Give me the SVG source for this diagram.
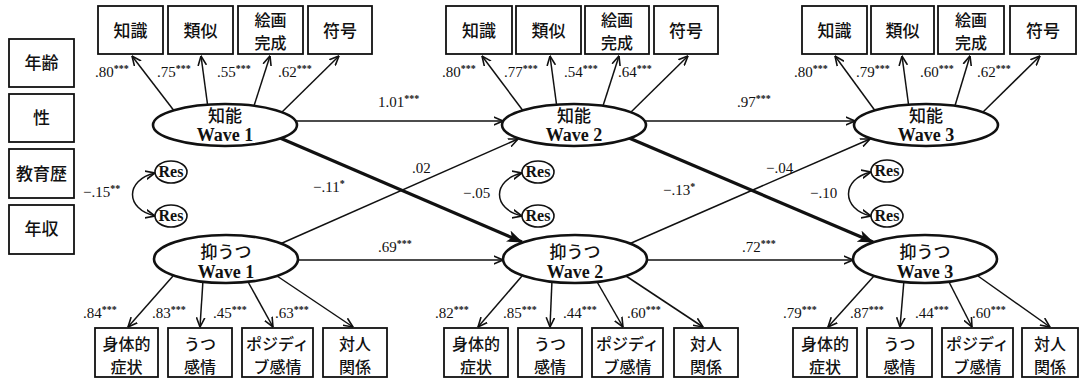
<svg xmlns="http://www.w3.org/2000/svg" width="1081" height="381" viewBox="0 0 1081 381">
<style>
.bx{fill:#fff;stroke:#111;stroke-width:1.8}
.el{fill:#fff;stroke:#111;stroke-width:2.6}
.res{fill:#fff;stroke:#111;stroke-width:1.6}
.jp{font-family:"Noto Sans CJK JP",sans-serif;font-size:17px;font-weight:500;fill:#111;text-anchor:middle}
.j2{font-family:"Noto Sans CJK JP",sans-serif;font-size:16px;font-weight:500;fill:#111;text-anchor:middle}
.wv{font-family:"Liberation Serif",serif;font-size:18px;font-weight:bold;fill:#111;text-anchor:middle}
.rs{font-family:"Liberation Serif",serif;font-size:16px;font-weight:bold;fill:#111;text-anchor:middle}
.lb{font-family:"Liberation Serif",serif;font-size:15px;fill:#111}
.st{font-size:10px;font-weight:bold}
.ln{fill:none;stroke:#111;stroke-width:1.5;marker-end:url(#ah)}
.tk{fill:none;stroke:#111;stroke-width:3.2;marker-end:url(#ahb)}
</style>
<defs>
<marker id="ah" viewBox="0 0 10 10" refX="9.5" refY="5" markerWidth="10" markerHeight="10" markerUnits="userSpaceOnUse" orient="auto-start-reverse"><path d="M0,0.8 L9.5,5 L0,9.2" fill="none" stroke="#111" stroke-width="1.6"/></marker>
<marker id="ahb" viewBox="0 0 16 12" refX="15" refY="6" markerWidth="16" markerHeight="12" markerUnits="userSpaceOnUse" orient="auto"><path d="M0,0 L16,6 L0,12 L4,6 Z" fill="#111"/></marker>
</defs>
<rect width="1081" height="381" fill="#fff"/>

<g id="covariates">
<rect class="bx" x="9" y="39" width="65" height="48"/><text class="jp" x="41.5" y="69">年齢</text>
<rect class="bx" x="9" y="94" width="65" height="48"/><text class="jp" x="41.5" y="124">性</text>
<rect class="bx" x="9" y="149" width="65" height="49"/><text class="jp" x="41.5" y="180">教育歴</text>
<rect class="bx" x="9" y="205" width="65" height="49"/><text class="jp" x="41.5" y="235">年収</text>
</g>

<g id="connectors">
<path class="ln" d="M175,112 L132,56"/>
<path class="ln" d="M208,108 L201,56"/>
<path class="ln" d="M253,109 L270,56"/>
<path class="ln" d="M280,114 L339,56"/>
<path class="ln" d="M524,112 L482,56"/>
<path class="ln" d="M557,108 L550,56"/>
<path class="ln" d="M602,109 L619,56"/>
<path class="ln" d="M629,114 L688,56"/>
<path class="ln" d="M876,112 L835,56"/>
<path class="ln" d="M909,108 L902,56"/>
<path class="ln" d="M954,109 L970,56"/>
<path class="ln" d="M981,114 L1040,56"/>
<path class="ln" d="M173,276 L128,327"/>
<path class="ln" d="M203,280 L200,327"/>
<path class="ln" d="M247,280 L273,327"/>
<path class="ln" d="M277,276 L353,327"/>
<path class="ln" d="M522,276 L478,327"/>
<path class="ln" d="M552,280 L550,327"/>
<path class="ln" d="M596,280 L623,327"/>
<path class="ln" d="M626,276 L703,327"/>
<path class="ln" d="M874,276 L828,327"/>
<path class="ln" d="M904,280 L900,327"/>
<path class="ln" d="M948,280 L972,327"/>
<path class="ln" d="M978,276 L1050,327"/>
<path class="ln" d="M295,121 L503,121"/>
<path class="ln" d="M644,121 L855,121"/>
<path class="ln" d="M297,260 L503,260"/>
<path class="ln" d="M646,260 L853,260"/>
<path class="ln" d="M280,244 L518,139"/>
<path class="ln" d="M629,244 L870,139"/>
<path class="tk" d="M280,138 L522,242"/>
<path class="tk" d="M629,138 L873,242"/>
<path class="ln" style="marker-start:url(#ah)" d="M155,173 C125,180 125,209 155,216"/>
<path class="ln" style="marker-start:url(#ah)" d="M522,173 C492,180 492,209 522,216"/>
<path class="ln" style="marker-start:url(#ah)" d="M871,172 C841,179 841,209 871,216"/>
</g>

<g id="iq-w1-indicators">
<rect class="bx" x="98" y="6" width="65" height="48"/><text class="jp" x="130.5" y="37">知識</text>
<rect class="bx" x="168" y="6" width="65" height="48"/><text class="jp" x="200.5" y="37">類似</text>
<rect class="bx" x="238" y="6" width="65" height="48"/><text class="j2" y="25.6"><tspan x="270.5">絵画</tspan><tspan x="270.5" dy="23.2">完成</tspan></text>
<rect class="bx" x="308" y="6" width="64" height="48"/><text class="jp" x="340" y="37">符号</text>
</g>
<g id="iq-w2-indicators">
<rect class="bx" x="446" y="6" width="66" height="48"/><text class="jp" x="479" y="37">知識</text>
<rect class="bx" x="516" y="6" width="65" height="48"/><text class="jp" x="548.5" y="37">類似</text>
<rect class="bx" x="585" y="6" width="64" height="48"/><text class="j2" y="25.6"><tspan x="617">絵画</tspan><tspan x="617" dy="23.2">完成</tspan></text>
<rect class="bx" x="654" y="6" width="64" height="48"/><text class="jp" x="686" y="37">符号</text>
</g>
<g id="iq-w3-indicators">
<rect class="bx" x="802" y="6" width="65" height="48"/><text class="jp" x="834.5" y="37">知識</text>
<rect class="bx" x="871" y="6" width="63" height="48"/><text class="jp" x="902.5" y="37">類似</text>
<rect class="bx" x="938" y="6" width="66" height="48"/><text class="j2" y="25.6"><tspan x="971">絵画</tspan><tspan x="971" dy="23.2">完成</tspan></text>
<rect class="bx" x="1010" y="6" width="66" height="48"/><text class="jp" x="1043" y="37">符号</text>
</g>

<g id="dep-w1-indicators">
<rect class="bx" x="95" y="328" width="63" height="49"/><text class="j2" y="349.5"><tspan x="126.5">身体的</tspan><tspan x="126.5" dy="23.2">症状</tspan></text>
<rect class="bx" x="168" y="328" width="64" height="49"/><text class="j2" y="349.5"><tspan x="200">うつ</tspan><tspan x="200" dy="23.2">感情</tspan></text>
<rect class="bx" x="242" y="328" width="71" height="49"/><text class="j2" y="349.5"><tspan x="277.5">ポジディ</tspan><tspan x="277.5" dy="23.2">ブ感情</tspan></text>
<rect class="bx" x="323" y="328" width="64" height="49"/><text class="j2" y="349.5"><tspan x="355">対人</tspan><tspan x="355" dy="23.2">関係</tspan></text>
</g>
<g id="dep-w2-indicators">
<rect class="bx" x="444" y="328" width="64" height="49"/><text class="j2" y="349.5"><tspan x="476">身体的</tspan><tspan x="476" dy="23.2">症状</tspan></text>
<rect class="bx" x="518" y="328" width="64" height="49"/><text class="j2" y="349.5"><tspan x="550">うつ</tspan><tspan x="550" dy="23.2">感情</tspan></text>
<rect class="bx" x="592" y="328" width="71" height="49"/><text class="j2" y="349.5"><tspan x="627.5">ポジディ</tspan><tspan x="627.5" dy="23.2">ブ感情</tspan></text>
<rect class="bx" x="674" y="328" width="64" height="49"/><text class="j2" y="349.5"><tspan x="706">対人</tspan><tspan x="706" dy="23.2">関係</tspan></text>
</g>
<g id="dep-w3-indicators">
<rect class="bx" x="793" y="328" width="64" height="49"/><text class="j2" y="349.5"><tspan x="825">身体的</tspan><tspan x="825" dy="23.2">症状</tspan></text>
<rect class="bx" x="867" y="328" width="65" height="49"/><text class="j2" y="349.5"><tspan x="899.5">うつ</tspan><tspan x="899.5" dy="23.2">感情</tspan></text>
<rect class="bx" x="942" y="328" width="71" height="49"/><text class="j2" y="349.5"><tspan x="977.5">ポジディ</tspan><tspan x="977.5" dy="23.2">ブ感情</tspan></text>
<rect class="bx" x="1022" y="328" width="56" height="49"/><text class="j2" y="349.5"><tspan x="1050">対人</tspan><tspan x="1050" dy="23.2">関係</tspan></text>
</g>

<g id="iq-w1"><ellipse class="el" cx="225" cy="125" rx="72" ry="21"/><text class="jp" y="122"><tspan x="225">知能</tspan><tspan class="wv" x="225" dy="19">Wave 1</tspan></text></g>
<g id="iq-w2"><ellipse class="el" cx="574" cy="125" rx="72" ry="21"/><text class="jp" y="122"><tspan x="574">知能</tspan><tspan class="wv" x="574" dy="19">Wave 2</tspan></text></g>
<g id="iq-w3"><ellipse class="el" cx="926" cy="125" rx="72" ry="21"/><text class="jp" y="122"><tspan x="926">知能</tspan><tspan class="wv" x="926" dy="19">Wave 3</tspan></text></g>
<g id="dep-w1"><ellipse class="el" cx="226" cy="259" rx="72" ry="24"/><text class="jp" y="258"><tspan x="226">抑うつ</tspan><tspan class="wv" x="226" dy="20">Wave 1</tspan></text></g>
<g id="dep-w2"><ellipse class="el" cx="575" cy="259" rx="72" ry="24"/><text class="jp" y="258"><tspan x="575">抑うつ</tspan><tspan class="wv" x="575" dy="20">Wave 2</tspan></text></g>
<g id="dep-w3"><ellipse class="el" cx="925" cy="259" rx="72" ry="24"/><text class="jp" y="258"><tspan x="925">抑うつ</tspan><tspan class="wv" x="925" dy="20">Wave 3</tspan></text></g>

<g id="res-w1"><ellipse class="res" cx="171" cy="172" rx="16" ry="11"/><text class="rs" x="171" y="177">Res</text><ellipse class="res" cx="171" cy="216" rx="16" ry="11"/><text class="rs" x="171" y="221">Res</text></g>
<g id="res-w2"><ellipse class="res" cx="538" cy="172" rx="16" ry="11"/><text class="rs" x="538" y="177">Res</text><ellipse class="res" cx="538" cy="216" rx="16" ry="11"/><text class="rs" x="538" y="221">Res</text></g>
<g id="res-w3"><ellipse class="res" cx="887" cy="171" rx="16" ry="11"/><text class="rs" x="887" y="176">Res</text><ellipse class="res" cx="887" cy="216" rx="16" ry="11"/><text class="rs" x="887" y="221">Res</text></g>

<g id="labels" class="lb">
<text x="95" y="77">.80<tspan class="st" dy="-5">***</tspan></text>
<text x="157" y="77">.75<tspan class="st" dy="-5">***</tspan></text>
<text x="217" y="77">.55<tspan class="st" dy="-5">***</tspan></text>
<text x="278" y="77">.62<tspan class="st" dy="-5">***</tspan></text>
<text x="442" y="77">.80<tspan class="st" dy="-5">***</tspan></text>
<text x="504" y="77">.77<tspan class="st" dy="-5">***</tspan></text>
<text x="564" y="77">.54<tspan class="st" dy="-5">***</tspan></text>
<text x="618" y="77">.64<tspan class="st" dy="-5">***</tspan></text>
<text x="794" y="77">.80<tspan class="st" dy="-5">***</tspan></text>
<text x="856" y="77">.79<tspan class="st" dy="-5">***</tspan></text>
<text x="920" y="77">.60<tspan class="st" dy="-5">***</tspan></text>
<text x="977" y="77">.62<tspan class="st" dy="-5">***</tspan></text>
<text x="83" y="318">.84<tspan class="st" dy="-5">***</tspan></text>
<text x="152" y="318">.83<tspan class="st" dy="-5">***</tspan></text>
<text x="213" y="318">.45<tspan class="st" dy="-5">***</tspan></text>
<text x="275" y="318">.63<tspan class="st" dy="-5">***</tspan></text>
<text x="435" y="318">.82<tspan class="st" dy="-5">***</tspan></text>
<text x="503" y="318">.85<tspan class="st" dy="-5">***</tspan></text>
<text x="563" y="318">.44<tspan class="st" dy="-5">***</tspan></text>
<text x="627" y="318">.60<tspan class="st" dy="-5">***</tspan></text>
<text x="783" y="318">.79<tspan class="st" dy="-5">***</tspan></text>
<text x="850" y="318">.87<tspan class="st" dy="-5">***</tspan></text>
<text x="915" y="318">.44<tspan class="st" dy="-5">***</tspan></text>
<text x="972" y="318">.60<tspan class="st" dy="-5">***</tspan></text>
<text x="378" y="107">1.01<tspan class="st" dy="-5">***</tspan></text>
<text x="737" y="107">.97<tspan class="st" dy="-5">***</tspan></text>
<text x="378" y="252">.69<tspan class="st" dy="-5">***</tspan></text>
<text x="742" y="252">.72<tspan class="st" dy="-5">***</tspan></text>
<text x="313" y="192">−.11<tspan class="st" dy="-5">*</tspan></text>
<text x="412" y="173">.02</text>
<text x="663" y="195">−.13<tspan class="st" dy="-5">*</tspan></text>
<text x="766" y="173">−.04</text>
<text x="83" y="197">−.15<tspan class="st" dy="-5">**</tspan></text>
<text x="463" y="198">−.05</text>
<text x="810" y="198">−.10</text>
</g>
</svg>
